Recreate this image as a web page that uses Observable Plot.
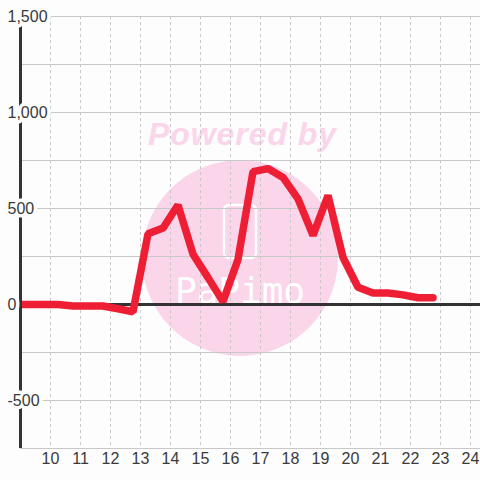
<!DOCTYPE html>
<html><head><meta charset="utf-8">
<script src="https://cdn.jsdelivr.net/npm/d3@7"></script>
<script src="https://cdn.jsdelivr.net/npm/@observablehq/plot@0.6"></script>
<style>
body{margin:0;background:#fcfdfc;}
#wrap{position:relative;width:480px;height:480px;overflow:hidden;}
#wm{position:absolute;left:0;top:0;}
#chart{position:absolute;left:0;top:0;}
</style></head><body>
<div id="wrap">
<svg id="wm" width="480" height="480">
 <text x="242" y="145" text-anchor="middle" font-family="Liberation Sans, Arial, sans-serif" font-weight="bold" font-style="italic" font-size="32" fill="#fbd5ea" textLength="188">Powered by</text>
 <circle cx="240" cy="258" r="98" fill="#fbd5ea"/>
 <rect x="224" y="205" width="32" height="53" rx="5" fill="none" stroke="#ffffff" stroke-width="2.5"/>
 <text x="240" y="303" text-anchor="middle" font-family="DejaVu Sans Mono, monospace" font-size="36" fill="#ffffff">PaPimo</text>
</svg>
<div id="chart"></div>
</div>
<script>
const times = [8.75, 9.25, 9.75, 10.25, 10.75, 11.25, 11.75, 12.25, 12.75, 13.25, 13.75, 14.25, 14.75, 15.25, 15.75, 16.25, 16.75, 17.25, 17.75, 18.25, 18.75, 19.25, 19.75, 20.25, 20.75, 21.25, 21.75, 22.25, 22.75];
const values = [0, 0, 0, 0, -8, -8, -8, -22, -38, 368, 398, 518, 262, 140, 15, 235, 692, 708, 662, 550, 360, 568, 245, 90, 60, 60, 50, 35, 35];
const yTicks = [1500, 1000, 500, 0, -500];
const yGrid = [1500, 1250, 1000, 750, 500, 250, 0, -250, -500, -750];
const xTicks = [10, 11, 12, 13, 14, 15, 16, 17, 18, 19, 20, 21, 22, 23, 24];

const data = times.map((t, i) => ({t, v: values[i]}));

const chart = Plot.plot({
  width: 480, height: 480,
  marginTop: 16, marginBottom: 32, marginLeft: 20, marginRight: 0,
  style: {background: "transparent", fontFamily: "Liberation Sans, Arial, sans-serif", fontSize: "15px", color: "#3a3a3a"},
  x: {domain: [9, 24.333], axis: null},
  y: {domain: [-750, 1500], axis: null},
  marks: [
    Plot.ruleY(yGrid, {stroke: "#c8c8c8", strokeWidth: 1}),
    Plot.ruleX(xTicks, {stroke: "#c8c8c8", strokeWidth: 1, strokeDasharray: "3,3"}),
    Plot.ruleY([0], {stroke: "#333333", strokeWidth: 3}),
    Plot.line(data, {x: "t", y: "v", stroke: "#ee1f35", strokeWidth: 7.5, clip: true, strokeLinejoin: "miter"}),
    Plot.ruleX([9], {stroke: "#333333", strokeWidth: 3}),
    Plot.text(yTicks, {y: d => d, frameAnchor: "left", dx: -13, textAnchor: "start", fontSize: 16, text: d => d.toLocaleString("en-US"), fill: "#3a3a3a", stroke: "#fcfdfc", strokeWidth: 7, paintOrder: "stroke"}),
    Plot.text(xTicks, {x: d => d, frameAnchor: "bottom", dy: 15, fontSize: 16, text: d => String(d), fill: "#3a3a3a"})
  ]
});
document.getElementById("chart").appendChild(chart);
</script>
</body></html>
